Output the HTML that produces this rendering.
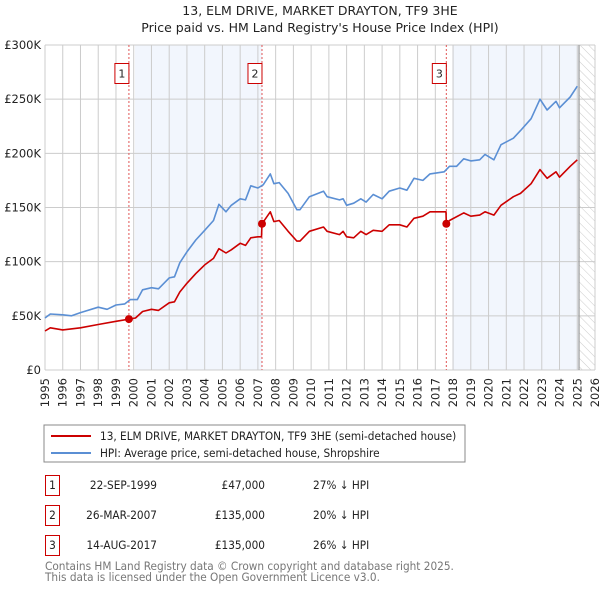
<!DOCTYPE html>
<html><head><meta charset="utf-8"><style>
body{margin:0;background:#fff;width:600px;height:590px;overflow:hidden;font-family:"DejaVu Sans","Liberation Sans",sans-serif}
svg text{font-family:"DejaVu Sans","Liberation Sans",sans-serif}
svg text.cd{font-family:"DejaVu Sans Condensed","DejaVu Sans","Liberation Sans",sans-serif;font-stretch:condensed;font-size:11.7px}
</style></head><body>
<svg id="c" width="600" height="590" xmlns="http://www.w3.org/2000/svg">
<text x="320" y="15" text-anchor="middle" font-size="12.5" fill="#222">13, ELM DRIVE, MARKET DRAYTON, TF9 3HE</text>
<text x="320" y="32" text-anchor="middle" font-size="12.5" fill="#222">Price paid vs. HM Land Registry's House Price Index (HPI)</text>
<defs><pattern id="hatch" width="6" height="6" patternUnits="userSpaceOnUse" patternTransform="rotate(-45)"><line x1="0" y1="0" x2="0" y2="6" stroke="#ccc" stroke-width="1"/></pattern></defs>
<g id="plot"></g>
<rect x="44" y="425" width="421" height="37" fill="#fff" stroke="#888"/>
<line x1="51" y1="436" x2="91" y2="436" stroke="#cc0000" stroke-width="2"/>
<text class="cd" x="100" y="440" fill="#222">13, ELM DRIVE, MARKET DRAYTON, TF9 3HE (semi-detached house)</text>
<line x1="51" y1="453" x2="91" y2="453" stroke="#5b8fd4" stroke-width="2"/>
<text class="cd" x="100" y="457" fill="#222">HPI: Average price, semi-detached house, Shropshire</text>
<g fill="#222">
<rect x="45.5" y="475.5" width="14" height="20" fill="none" stroke="#cc0000"/><text class="cd" x="52.5" y="489" text-anchor="middle">1</text>
<text class="cd" x="157" y="489" text-anchor="end">22-SEP-1999</text>
<text class="cd" x="265" y="489" text-anchor="end">£47,000</text>
<text class="cd" x="313" y="489">27% ↓ HPI</text>
<rect x="45.5" y="505.5" width="14" height="20" fill="none" stroke="#cc0000"/><text class="cd" x="52.5" y="519" text-anchor="middle">2</text>
<text class="cd" x="157" y="519" text-anchor="end">26-MAR-2007</text>
<text class="cd" x="265" y="519" text-anchor="end">£135,000</text>
<text class="cd" x="313" y="519">20% ↓ HPI</text>
<rect x="45.5" y="535.5" width="14" height="20" fill="none" stroke="#cc0000"/><text class="cd" x="52.5" y="549" text-anchor="middle">3</text>
<text class="cd" x="157" y="549" text-anchor="end">14-AUG-2017</text>
<text class="cd" x="265" y="549" text-anchor="end">£135,000</text>
<text class="cd" x="313" y="549">26% ↓ HPI</text>
</g>
<text class="cd" x="45" y="570" fill="#777">Contains HM Land Registry data © Crown copyright and database right 2025.</text>
<text class="cd" x="45" y="581" fill="#777">This data is licensed under the Open Government Licence v3.0.</text>
</svg>
<script>
const yearTicks=[1995,1996,1997,1998,1999,2000,2001,2002,2003,2004,2005,2006,2007,2008,2009,2010,2011,2012,2013,2014,2015,2016,2017,2018,2019,2020,2021,2022,2023,2024,2025,2026];
const valueTicks=[0,50,100,150,200,250,300];
const valueLabels=["£0","£50K","£100K","£150K","£200K","£250K","£300K"];
const hpiYears=[1995,1995.3,1996,1996.5,1997,1998,1998.5,1999,1999.5,1999.8,2000.2,2000.5,2001,2001.4,2002,2002.3,2002.6,2003,2003.5,2004,2004.5,2004.8,2005.2,2005.5,2006,2006.3,2006.6,2007,2007.3,2007.7,2007.9,2008.2,2008.7,2009.2,2009.37,2009.9,2010.7,2010.9,2011.6,2011.8,2012.0,2012.4,2012.8,2013.1,2013.5,2014.0,2014.4,2015.0,2015.4,2015.8,2016.3,2016.7,2017.5,2017.8,2018.2,2018.6,2019.0,2019.5,2019.8,2020.3,2020.7,2021.4,2021.8,2022.4,2022.9,2023.3,2023.8,2024.0,2024.6,2025.0];
const hpiValues=[48,51.7,51,50,53,58,56,60,61,65,65,74,76,75,85,86,99,109,120,129,138,153,146,152,158,157,170,168,171,181,172,173,163,148,148,160,165,160,157,158,152,154,158,155,162,158,165,168,166,177,175,181,183,188,188,195,193,194,199,194,208,214,221,232,250,240,248,242,252,262];
const ppYears=[1995,1995.3,1996,1997,1998,1999,1999.73,2000.1,2000.5,2001,2001.4,2002,2002.3,2002.6,2003,2003.5,2004,2004.5,2004.8,2005.2,2005.5,2006,2006.3,2006.6,2007.0,2007.2,2007.23,2007.7,2007.9,2008.2,2008.7,2009.2,2009.37,2009.9,2010.7,2010.9,2011.6,2011.8,2012.0,2012.4,2012.8,2013.1,2013.5,2014.0,2014.4,2015.0,2015.4,2015.8,2016.3,2016.7,2017.5,2017.6,2017.62,2017.8,2018.6,2019.0,2019.5,2019.8,2020.3,2020.7,2021.4,2021.8,2022.4,2022.9,2023.3,2023.8,2024.0,2024.6,2025.0];
const ppValues=[36,39,37,39,42,45,47,48,54,56,55,62,63,72,80,89,97,103,112,108,111,117,115,122,123,123,135,146,137,138,128,119,119,128,132,128,125,128,123,122,128,125,129,128,134,134,132,140,142,146,146,146,135,138,145,142,143,146,143,152,160,163,172,185,177,183,178,188,194];
const saleYears=[1999.73,2007.23,2017.62];
const saleValues=[47,135,135];
const saleLabels=["1","2","3"];

const X0=45,X1=595,Y0=370,Y1=45;
const xs=y=>X0+(y-1995)/(2026-1995)*(X1-X0);
const ys=v=>Y0-v/300*(Y0-Y1);
const NS="http://www.w3.org/2000/svg";
const g=document.getElementById('plot');
function mk(t,a,p){const e=document.createElementNS(NS,t);for(const k in a)e.setAttribute(k,a[k]);(p||g).appendChild(e);return e;}
let s1=mk('rect',{x:xs(saleYears[0])+6,y:Y1,width:xs(saleYears[1])-xs(saleYears[0])-6,height:Y0-Y1,fill:'#eef3fc',opacity:0.75});


let s2=mk('rect',{x:xs(saleYears[2])+6,y:Y1,width:xs(2025.1)-xs(saleYears[2])-6,height:Y0-Y1,fill:'#eef3fc',opacity:0.75});


let ht=mk('rect',{x:xs(2025.1),y:Y1,width:X1-xs(2025.1),height:Y0-Y1,fill:'url(#hatch)'});


yearTicks.forEach(yr=>{
 const x=xs(yr);
 mk('line',{x1:x,y1:Y1,x2:x,y2:Y0,stroke:'#ccc','stroke-width':1});
 const t=mk('text',{x:0,y:0,'font-size':11.5,fill:'#222','text-anchor':'end',transform:`translate(${x+4},${Y0+8}) rotate(-90)`});
 t.textContent=yr;
 
 
});
valueTicks.forEach((v,i)=>{
 const y=ys(v);
 mk('line',{x1:X0,y1:y,x2:X1,y2:y,stroke:'#ccc','stroke-width':1});
 const t=mk('text',{x:X0-4,y:y+4,'font-size':11.5,fill:'#222','text-anchor':'end'});
 t.textContent=valueLabels[i];
 
 
});
let vl=mk('line',{x1:xs(2025.1),y1:Y1,x2:xs(2025.1),y2:Y0,stroke:'#999','stroke-width':1.2});


saleYears.forEach((yr,i)=>{
 const x=xs(yr);
 let l=mk('line',{x1:x,y1:Y1,x2:x,y2:Y0,stroke:'#e05555','stroke-width':1,'stroke-dasharray':'2,2'});
 
 
 let b=mk('rect',{x:x-14,y:63.5,width:14,height:20,fill:'#fff',stroke:'#cc0000'});
 
 
 let t=mk('text',{x:x-7,y:77.5,'font-size':11,fill:'#222','text-anchor':'middle'});
 t.textContent=saleLabels[i];
 
 
});
function path(xa,va,col,name){
 const d=xa.map((yr,i)=>(i?'L':'M')+xs(yr).toFixed(1)+','+ys(va[i]).toFixed(1)).join('');
 const p=mk('path',{d:d,fill:'none',stroke:col,'stroke-width':1.6,'stroke-linejoin':'round'});
 
 
}
path(hpiYears,hpiValues,'#5b8fd4','hpi-line');
path(ppYears,ppValues,'#cc0000','property-line');
saleYears.forEach((yr,i)=>{
 const c=mk('circle',{cx:xs(yr),cy:ys(saleValues[i]),r:4,fill:'#cc0000'});
 
 
});
</script>
</body></html>
